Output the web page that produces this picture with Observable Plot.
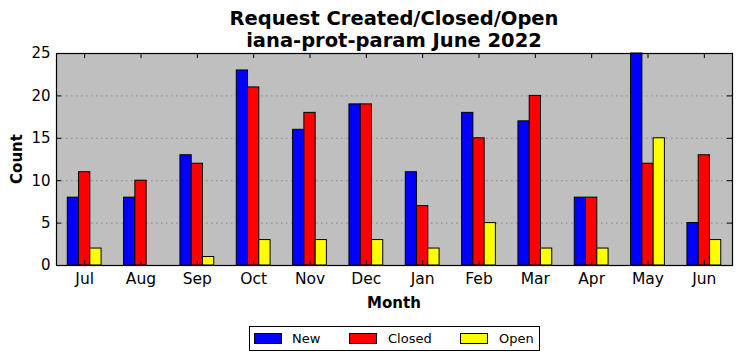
<!DOCTYPE html>
<html><head><meta charset="utf-8">
<script src="https://cdn.jsdelivr.net/npm/d3@7"></script>
<script src="https://cdn.jsdelivr.net/npm/@observablehq/plot@0.6"></script>
<style>
body{margin:0;background:#fff;font-family:"DejaVu Sans",sans-serif;}
#wrap{position:relative;width:742px;height:361px;overflow:hidden;}
#title{position:absolute;left:0;width:788px;top:8px;text-align:center;font-weight:bold;font-size:19.5px;line-height:22px;color:#000;}
#ylab{position:absolute;left:17px;top:159px;transform:translate(-50%,-50%) rotate(-90deg);font-weight:bold;font-size:15px;}
#xlab{position:absolute;left:0;width:788px;top:294px;text-align:center;font-weight:bold;font-size:15px;}
#legend{position:absolute;left:249px;top:326px;width:289px;height:23px;border:1px solid #000;background:#fff;font-size:13px;}
.sw{position:absolute;top:6px;width:26px;height:9px;border:1px solid #000;}
.lt{position:absolute;top:0;line-height:23px;}
#plot{position:absolute;left:0;top:0;}
</style></head>
<body><div id="wrap">
<div id="title">Request Created/Closed/Open<br>iana-prot-param June 2022</div>
<div id="plot"></div>
<div id="ylab">Count</div>
<div id="xlab">Month</div>
<div id="legend"></div>
</div>
<script>
const months = ["Jul","Aug","Sep","Oct","Nov","Dec","Jan","Feb","Mar","Apr","May","Jun"];
const seriesNames = ["New","Closed","Open"];
const seriesColors = ["#0000ff","#ff0000","#ffff00"];
const newCounts = [8,8,13,23,16,19,11,18,17,8,25,5];
const closedCounts = [11,10,12,21,18,19,7,15,20,8,12,13];
const openCounts = [2,0,1,3,3,3,2,5,2,2,15,3];
const yTicks = [0,5,10,15,20,25];

const allSeries = [newCounts, closedCounts, openCounts];
const offsets = [-0.2, 0, 0.2];
const barW = 0.2;
const rows = [];
allSeries.forEach((vals, s) => vals.forEach((v, i) => rows.push({
  i, month: months[i], series: seriesNames[s], value: v,
  x1: i + offsets[s] - barW/2, x2: i + offsets[s] + barW/2
})));
const idx = months.map((m, i) => i);
const tickLenX = 0.09, tickLenY = 0.6;

const chart = Plot.plot({
  width: 742, height: 300,
  marginLeft: 56, marginRight: 10, marginTop: 53, marginBottom: 35,
  style: {fontFamily: "DejaVu Sans, sans-serif", fontSize: "15px", background: "transparent", color: "#000"},
  x: {type: "linear", domain: [-0.5, 11.5]},
  y: {domain: [0, 25]},
  marks: [
    Plot.frame({fill: "#bfbfbf"}),
    Plot.ruleY(yTicks.filter(t => t > 0 && t < 25), {stroke: "#7a7a7a", strokeWidth: 0.8, strokeDasharray: "1.5,3.5"}),
    Plot.rectY(rows, {x1: "x1", x2: "x2", y1: 0, y2: "value", fill: d => seriesColors[seriesNames.indexOf(d.series)], stroke: "#000", strokeWidth: 1}),
    Plot.ruleX(idx, {x: d => d, y1: 0, y2: tickLenY, stroke: "#000"}),
    Plot.ruleX(idx, {x: d => d, y1: 25, y2: 25 - tickLenY, stroke: "#000"}),
    Plot.ruleY(yTicks, {y: d => d, x1: -0.5, x2: -0.5 + tickLenX, stroke: "#000"}),
    Plot.ruleY(yTicks, {y: d => d, x1: 11.5, x2: 11.5 - tickLenX, stroke: "#000"}),
    Plot.axisX(idx, {tickSize: 0, tickPadding: 7, tickFormat: i => months[i], label: null, fontSize: 15.5}),
    Plot.axisY(yTicks, {tickSize: 0, tickPadding: 6, label: null, fontSize: 15}),
    Plot.frame({stroke: "#000", strokeWidth: 1.2})
  ]
});
document.getElementById("plot").appendChild(chart);

const leg = document.getElementById("legend");
const swX = [4, 99, 210];
const txX = [42, 138, 249];
seriesNames.forEach((n, s) => {
  const sw = document.createElement("div");
  sw.className = "sw"; sw.style.left = swX[s] + "px"; sw.style.background = seriesColors[s];
  leg.appendChild(sw);
  const t = document.createElement("div");
  t.className = "lt"; t.style.left = txX[s] + "px"; t.textContent = n;
  leg.appendChild(t);
});
</script>
</body></html>
